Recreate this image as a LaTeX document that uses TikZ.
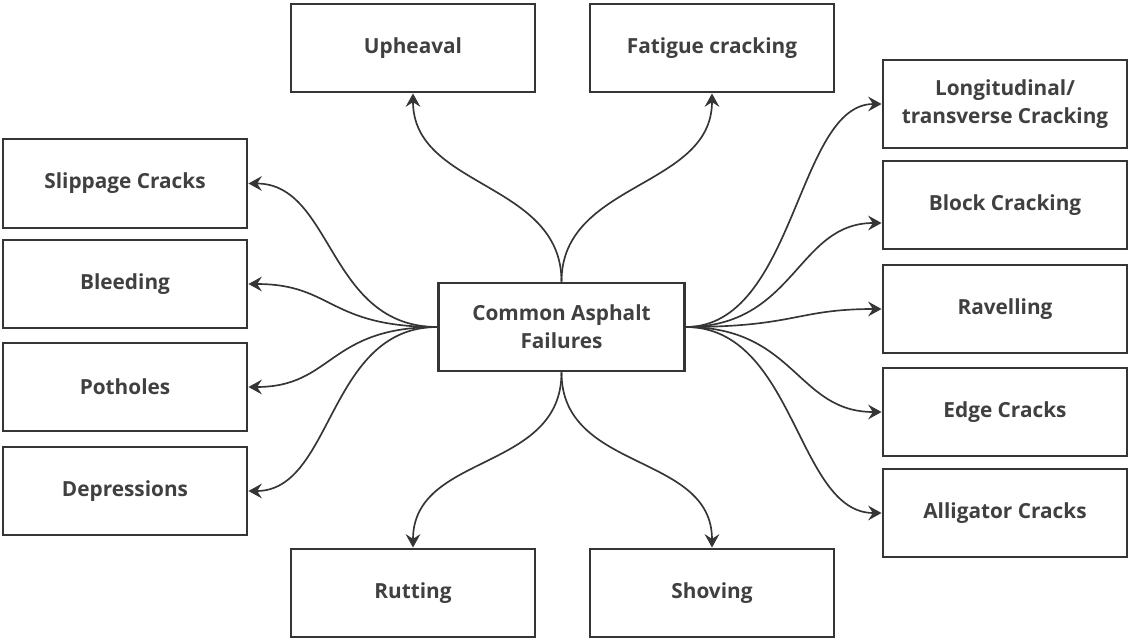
\documentclass[tikz,border=0pt]{standalone}
\usepackage{fontspec}
\setmainfont{Open Sans}
\usetikzlibrary{arrows.meta}
\definecolor{ink}{HTML}{353535}
\definecolor{txt}{HTML}{404040}
\begin{document}
\begin{tikzpicture}[x=0.75pt,y=-0.75pt,
  box/.style={draw=ink, line width=1.7pt, fill=white,
    minimum width=183.5pt, minimum height=66.5pt, inner sep=0pt,
    text=txt, align=center,
    font=\bfseries\fontsize{15.6}{21}\selectfont},
  link/.style={draw=ink, line width=1.25pt,
    -{Stealth[length=10pt,width=11pt,inset=3.5pt]}}]
\useasboundingbox (0,0) rectangle (1129,642);

% hub
\node[box, minimum width=184.5pt] (hub) at (561.5,327) {Common Asphalt\\Failures};

% top row
\node[box] (up)  at (413,48) {Upheaval};
\node[box] (fat) at (712,48) {Fatigue cracking};

% left column
\node[box] (slip)  at (125,183.5) {Slippage Cracks};
\node[box] (bleed) at (125,284)   {Bleeding};
\node[box] (pot)   at (125,387)   {Potholes};
\node[box] (dep)   at (125,491)   {Depressions};

% right column
\node[box] (long)  at (1005,104) {Longitudinal/\\transverse Cracking};
\node[box] (block) at (1005,205) {Block Cracking};
\node[box] (rav)   at (1005,309) {Ravelling};
\node[box] (edge)  at (1005,412) {Edge Cracks};
\node[box] (alli)  at (1005,513) {Alligator Cracks};

% bottom row
\node[box] (rut)  at (413,593) {Rutting};
\node[box] (shov) at (712,593) {Shoving};

% connectors, upwards
\draw[link] (hub.north) .. controls +(0,-100) and +(0,95) .. (up.south);
\draw[link] (hub.north) .. controls +(0,-100) and +(0,95) .. (fat.south);

% connectors, to the left
\draw[link] (hub.west) .. controls +(-110,0) and +(85,0) .. (slip.east);
\draw[link] (hub.west) .. controls +(-110,0) and +(85,0) .. (bleed.east);
\draw[link] (hub.west) .. controls +(-110,0) and +(85,0) .. (pot.east);
\draw[link] (hub.west) .. controls +(-110,0) and +(85,0) .. (dep.east);

% connectors, to the right
\draw[link] (hub.east) .. controls +(110,0) and +(-85,0) .. (long.west);
\draw[link] (hub.east) .. controls +(110,0) and +(-85,0) .. ([yshift=-13.5pt]block.west);
\draw[link] (hub.east) .. controls +(110,0) and +(-85,0) .. (rav.west);
\draw[link] (hub.east) .. controls +(110,0) and +(-85,0) .. (edge.west);
\draw[link] (hub.east) .. controls +(110,0) and +(-85,0) .. (alli.west);

% connectors, downwards
\draw[link] (hub.south) .. controls +(0,100) and +(0,-95) .. (rut.north);
\draw[link] (hub.south) .. controls +(0,100) and +(0,-95) .. (shov.north);
\end{tikzpicture}
\end{document}
